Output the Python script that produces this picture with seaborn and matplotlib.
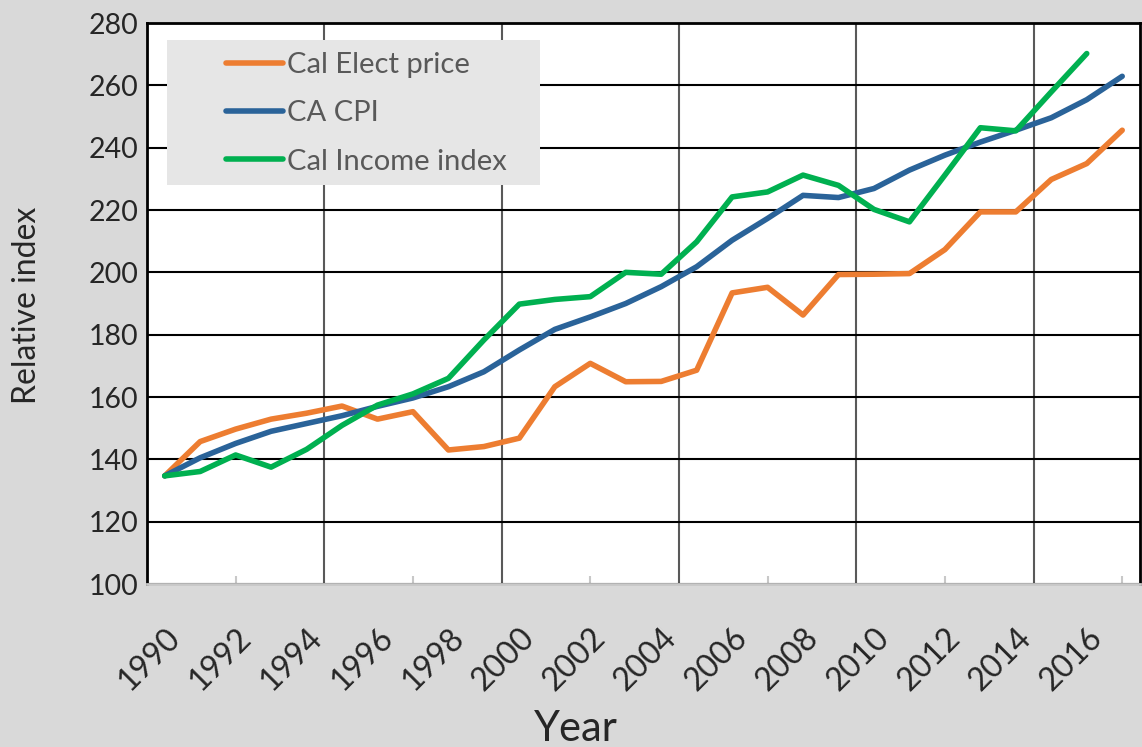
import numpy as np
import pandas as pd
import matplotlib.pyplot as plt
import seaborn as sns
from matplotlib.lines import Line2D
from matplotlib.patches import Rectangle

# ---- data ----
years = list(range(1990, 2018))
elect_price = [134.7, 145.7, 149.7, 152.9, 154.8, 157.1, 152.9, 155.3, 143.0, 144.1,
               146.8, 163.3, 170.8, 164.9, 165.0, 168.6, 193.4, 195.2, 186.3, 199.3,
               199.4, 199.6, 207.3, 219.4, 219.4, 229.8, 234.9, 245.6]
ca_cpi = [134.7, 140.5, 145.1, 149.0, 151.5, 154.0, 157.0, 159.7, 163.3, 168.1,
          175.1, 181.7, 185.7, 190.0, 195.4, 201.8, 210.3, 217.3, 224.7, 224.0,
          226.9, 232.8, 237.6, 241.8, 245.6, 249.6, 255.4, 262.9]
income_index = [134.7, 136.1, 141.4, 137.5, 143.2, 150.9, 157.4, 161.0, 166.0, 178.3,
                189.8, 191.3, 192.2, 200.0, 199.4, 209.8, 224.2, 225.8, 231.2, 227.9,
                220.2, 216.2, 231.2, 246.4, 245.4, 257.9, 270.2, np.nan]
series_names = ['Cal Elect price', 'CA CPI', 'Cal Income index']
colors = ['#ED7D31', '#2A6399', '#00B050']
x_labels = list(range(1990, 2017, 2))
y_ticks = list(range(100, 281, 20))

df = pd.DataFrame({'Year': years,
                   'Cal Elect price': elect_price,
                   'CA CPI': ca_cpi,
                   'Cal Income index': income_index})
long_df = df.melt(id_vars='Year', var_name='series', value_name='index').dropna()

# ---- style ----
sns.set_style('white')
plt.rcParams['font.family'] = ['Lato', 'DejaVu Sans']

fig = plt.figure(figsize=(11.42, 7.47), dpi=100, facecolor='#d9d9d9')
ax = fig.add_axes([0.1287, 0.2182, 0.8695, 0.751])
ax.set_facecolor('white')

sns.lineplot(data=long_df, x='Year', y='index', hue='series', hue_order=series_names,
             palette=colors, linewidth=4.0, legend=False, ax=ax, zorder=3,
             solid_capstyle='round', solid_joinstyle='round')

ax.set_xlim(1989.5, 2017.5)
ax.set_ylim(100, 280)
ax.set_yticks(y_ticks)
ax.set_xticks(x_labels)
ax.set_xticklabels([str(y) for y in x_labels], rotation=45, ha='right', va='top',
                   rotation_mode='anchor', fontsize=23)
ax.set_xticks(np.arange(1994.5, 2015, 5), minor=True)
ax.tick_params(axis='x', which='both', length=0, pad=28)
ax.tick_params(axis='y', length=0, labelsize=20.5, pad=6)

ax.yaxis.grid(True, color='black', linewidth=1.5, zorder=1)
ax.xaxis.grid(True, which='minor', color='#595959', linewidth=1.5, zorder=1)
ax.xaxis.grid(False, which='major')
ax.set_axisbelow(True)

for side in ['left', 'top', 'right']:
    ax.spines[side].set_color('black')
    ax.spines[side].set_linewidth(2)
ax.spines['bottom'].set_color('#c8c8c8')
ax.spines['bottom'].set_linewidth(2)

# small light tick marks along the bottom
sec = ax.secondary_xaxis('bottom')
sec.set_xticks(np.arange(1992, 2018, 5))
sec.tick_params(direction='in', length=6, width=1.5, color='#c8c8c8', labelbottom=False)
sec.spines['bottom'].set_visible(False)

ax.set_xlabel('Year', fontsize=30)
ax.set_ylabel('Relative index', fontsize=23)
ax.xaxis.set_label_coords(0.432, -0.225)
ax.yaxis.set_label_coords(-0.106, 0.497)

# legend on a light grey panel
ax.add_patch(Rectangle((0.0201, 0.7112), 0.3757, 0.2585, transform=ax.transAxes,
                       facecolor='#e6e6e6', edgecolor='none', zorder=4))
handles = [Line2D([], [], color=c, linewidth=4.0, solid_capstyle='round') for c in colors]
leg = ax.legend(handles, series_names, loc='upper left', bbox_to_anchor=(0.08, 0.948),
                frameon=False, fontsize=21, handlelength=1.95, handletextpad=0.12,
                labelspacing=0.76, borderpad=0, borderaxespad=0)
leg.set_zorder(5)
for t in leg.get_texts():
    t.set_color('#595959')

fig.savefig('out.png', dpi=100, facecolor=fig.get_facecolor())
